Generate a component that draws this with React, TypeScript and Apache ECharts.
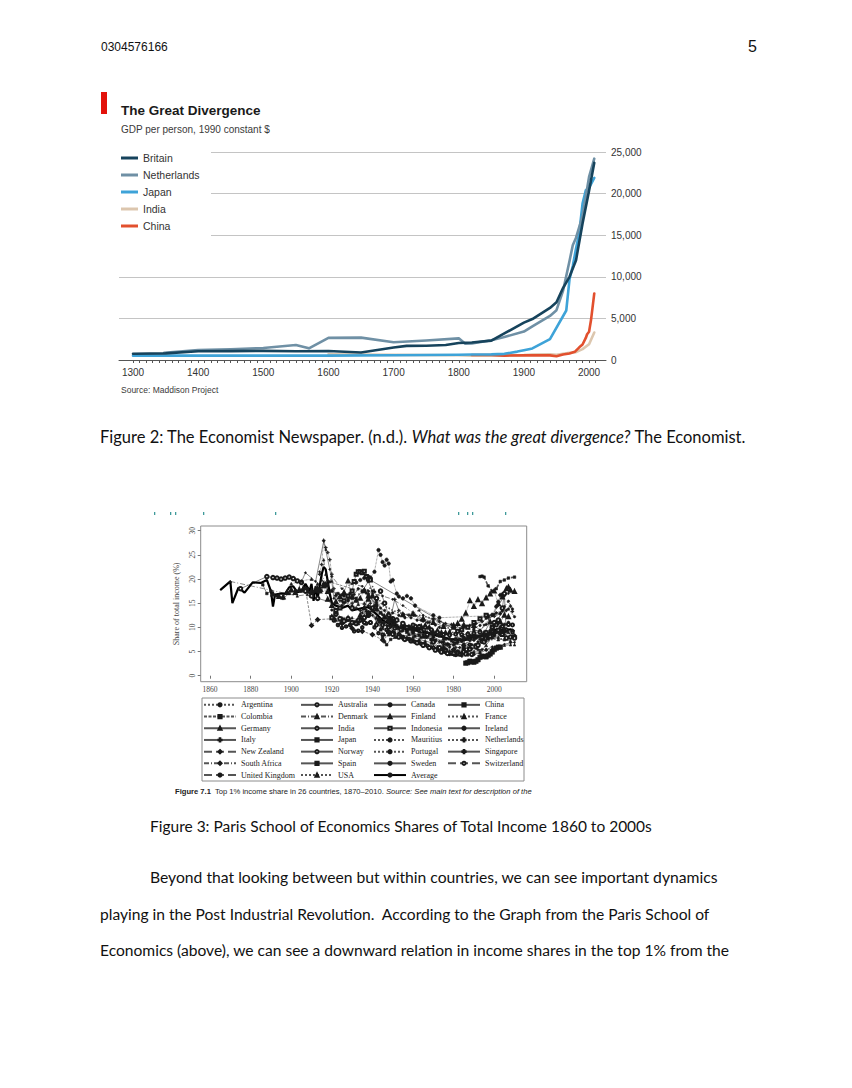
import React, { useEffect, useRef } from 'react';
import * as echarts from 'echarts';

// ---------- Figure 2: The Great Divergence (GDP per person, 1990 $) ----------
const gdpBritain = [[1300,750],[1350,800],[1400,1050],[1450,1070],[1500,1100],[1550,1050],[1600,1080],[1650,910],[1700,1500],[1720,1700],[1750,1710],[1780,1800],[1800,2050],[1820,2100],[1850,2330],[1870,3190],[1900,4490],[1913,4920],[1940,6260],[1950,6940],[1960,8650],[1970,10000],[1980,12000],[1990,16400],[2000,20350],[2008,23700]];
const gdpNetherlands = [[1348,880],[1400,1200],[1450,1300],[1500,1450],[1550,1800],[1570,1400],[1600,2660],[1650,2690],[1700,2130],[1750,2350],[1800,2600],[1810,1950],[1820,2000],[1850,2370],[1870,2760],[1900,3420],[1913,4050],[1940,5300],[1950,5990],[1960,8300],[1970,11900],[1975,13800],[1980,14700],[1990,17300],[2000,22000],[2008,24200]];
const gdpJapan = [[1300,520],[1400,520],[1500,520],[1600,520],[1700,570],[1800,640],[1820,670],[1850,680],[1870,740],[1890,1010],[1900,1180],[1913,1390],[1940,2500],[1965,5950],[1970,9700],[1975,11300],[1980,13400],[1985,15300],[1990,18800],[1995,20400],[2000,20700],[2008,21900]];
const gdpIndia = [[1600,680],[1700,620],[1800,570],[1820,530],[1850,530],[1870,530],[1900,600],[1913,670],[1940,690],[1950,620],[1960,750],[1970,870],[1980,940],[1990,1310],[2000,1900],[2008,3300]];
const gdpChina = [[1820,600],[1850,600],[1870,530],[1900,550],[1913,550],[1940,560],[1950,450],[1960,660],[1970,780],[1978,980],[1985,1520],[1990,1860],[1995,2650],[1997,3100],[2000,3400],[2003,4800],[2008,8000]];
const gdpYearTicks = Array.from({ length: 72 }, (_, i) => 1300 + i * 10);
const gdpYearLabels = [1300, 1400, 1500, 1600, 1700, 1800, 1900, 2000];

// ---------- Figure 3: Top 1% income share (%) ----------
const argentina = [[1932,19.3],[1934,19.8],[1936,20.2],[1938,20.5],[1939,20.3],[1941,21.5],[1943,26],[1944,25],[1945,23.5],[1946,22.8],[1947,24],[1948,23.2],[1949,19.5],[1950,19.8],[1952,17],[1953,16.4],[1955,16],[1957,16.5],[1959,16],[1961,14.5],[1970,12.5],[1973,12],[1997,12.4],[1999,12.6],[2001,14.3],[2002,15.3],[2003,16.7],[2004,16.8]];
const colombia = [[1993,20.5],[1994,20.6],[1995,20.4],[1997,18.6],[1999,17.5],[2001,18],[2003,19.5],[2005,19.8],[2007,20.2],[2010,20.4]];
const germany = [[1891,16.9],[1894,16.4],[1896,16.3],[1898,17.2],[1900,17.8],[1902,17.2],[1904,17.8],[1906,18],[1908,17.6],[1910,17.4],[1912,17.7],[1914,17.5],[1916,19],[1917,18.8],[1918,17.4],[1925,11.2],[1926,11.5],[1928,11.9],[1932,11],[1934,12.5],[1936,14],[1938,16.5],[1950,11.6],[1955,12.6],[1960,12.8],[1965,11.8],[1970,11],[1975,10.2],[1980,10.4],[1985,10.5],[1990,10.4],[1995,8.8],[1998,11.1],[2001,11],[2003,11.1],[2005,12.5],[2007,12.2]];
const italy = [[1974,6.9],[1976,6.5],[1978,6.4],[1980,6.9],[1982,6.8],[1984,7.2],[1986,7.6],[1988,7.6],[1990,7.8],[1992,8.1],[1994,8.4],[1996,8.6],[1998,8.9],[2000,9.2],[2002,9.3],[2004,9.4],[2006,9.6],[2009,9.4]];
const newZealand = [[1907,18],[1910,10.4],[1913,11.6],[1921,11.8],[1925,10.8],[1930,9.8],[1935,9.2],[1940,8.5],[1945,7.4],[1950,9],[1955,7.8],[1960,7.2],[1965,6.4],[1970,5.8],[1975,5.6],[1980,5.4],[1985,6.2],[1988,7.5],[1990,8.2],[1995,8.2],[2000,8.8],[2005,9.3],[2010,8.2]];
const southAfrica = [[1914,21.5],[1918,18.5],[1920,20.5],[1925,18],[1930,19],[1935,18.5],[1940,17],[1945,16.5],[1950,15.8],[1955,14.5],[1960,13],[1963,13.5],[1965,12.5],[1970,11.5],[1975,10.5],[1990,9.5],[1993,9],[1995,10.5],[1999,12.5],[2002,14.5],[2005,16.5],[2007,17]];
const unitedKingdom = [[1918,19.6],[1919,19.4],[1937,17.1],[1938,16.9],[1945,12.6],[1949,11.5],[1951,10.9],[1955,9.3],[1960,9],[1965,8],[1970,7.1],[1975,6.1],[1978,5.9],[1981,6.7],[1985,8],[1990,9.8],[1993,10.4],[1996,11.9],[2000,12.7],[2003,12.9],[2005,14.3],[2007,15.4],[2009,13.8]];
const australia = [[1921,11.4],[1923,10.5],[1925,9.9],[1927,10.2],[1929,10.5],[1931,9.2],[1933,9.3],[1935,10],[1937,10.8],[1939,11],[1941,10],[1943,8.8],[1945,8.5],[1947,9.5],[1949,10.2],[1951,11.3],[1953,8.6],[1955,8],[1958,7.6],[1961,7],[1964,6.6],[1967,6.2],[1970,5.8],[1973,5.2],[1976,4.9],[1979,4.7],[1982,5],[1985,5.6],[1988,6.4],[1991,6.3],[1994,7.1],[1997,7.8],[2000,8.8],[2003,8.7],[2006,9.5],[2009,9]];
const denmark = [[1870,19.5],[1903,16.5],[1908,16.8],[1915,19.8],[1916,24],[1917,21],[1918,19],[1920,14.5],[1922,12.5],[1925,12],[1928,11.5],[1930,12],[1933,11.5],[1936,12.5],[1939,13],[1942,12],[1945,11],[1948,10],[1951,9],[1954,8.5],[1957,8],[1960,7.5],[1963,7.2],[1966,6.8],[1969,6],[1972,5.6],[1975,5.4],[1978,5.2],[1981,5],[1984,5],[1987,5.1],[1990,5],[1993,5.2],[1996,5.5],[1999,5.6],[2002,5.9],[2005,6.3],[2008,6.4],[2010,6.4]];
const india = [[1922,12.8],[1924,11.8],[1926,11.3],[1928,11.8],[1930,11],[1932,10.8],[1934,11.5],[1936,12],[1938,12.5],[1940,14],[1942,16],[1944,17.5],[1946,15],[1948,12.5],[1950,11.8],[1952,11.5],[1955,10.8],[1958,10],[1961,10.2],[1964,9.3],[1967,8.5],[1970,7],[1973,5.8],[1976,5.3],[1979,4.7],[1982,4.6],[1985,4.9],[1988,5.5],[1991,6],[1994,7.2],[1997,8.5],[1999,9]];
const japan = [[1886,18.8],[1888,17],[1890,17.5],[1893,16.5],[1896,16],[1899,17],[1902,17.5],[1905,17.5],[1908,18],[1911,17.5],[1914,18],[1917,19],[1920,17.5],[1923,17],[1926,16.5],[1929,17],[1932,16],[1935,17.5],[1938,19.5],[1940,17.5],[1942,15],[1944,9.5],[1945,8],[1946,7],[1947,6.4],[1949,7.5],[1952,8],[1955,8.1],[1958,8.5],[1961,8.2],[1964,7.9],[1967,8],[1970,8.4],[1973,8.2],[1976,7.6],[1979,7.2],[1982,7.1],[1985,7.4],[1988,8.3],[1991,7.8],[1994,7.4],[1997,7.7],[2000,8.2],[2003,8.6],[2006,9.2],[2009,9.3]];
const norway = [[1875,18],[1888,20.5],[1891,20.3],[1893,20.2],[1895,20],[1897,20.2],[1899,20.4],[1901,20.1],[1903,19.6],[1905,19.3],[1907,17.5],[1910,16.5],[1913,16],[1930,14],[1938,13],[1948,9],[1950,8.6],[1953,8],[1956,7.5],[1959,7.2],[1962,6.8],[1965,6.3],[1968,5.8],[1971,5.3],[1974,4.9],[1977,4.6],[1980,4.6],[1983,4.5],[1986,4.5],[1989,4.4],[1992,6.3],[1995,7],[1998,8.2],[2000,11],[2002,11.5],[2004,14],[2005,17],[2006,7.8],[2008,8],[2010,7.8]];
const spain = [[1933,10.8],[1935,11.5],[1938,12.5],[1940,13.5],[1942,14.5],[1944,13],[1946,12],[1948,11],[1950,10.5],[1952,10],[1954,9.5],[1957,9],[1960,8.8],[1963,8.4],[1966,8],[1969,7.5],[1971,7.3],[1981,7.5],[1983,7.5],[1985,7.8],[1987,7.9],[1989,8.2],[1991,8.2],[1993,8.2],[1995,8.4],[1997,8.6],[1999,8.8],[2001,9],[2003,9.1],[2005,9.3]];
const usa = [[1913,18],[1916,18.6],[1918,15.8],[1920,14.5],[1922,15.3],[1924,16.4],[1926,17.2],[1928,19.6],[1930,16.4],[1932,15.6],[1934,16],[1936,17.6],[1938,15.8],[1940,16.5],[1942,13.8],[1944,11.3],[1946,12.2],[1948,11.8],[1950,11.4],[1952,10],[1954,10],[1956,10.2],[1958,10],[1960,10],[1962,9.8],[1964,10.2],[1966,10.4],[1968,10],[1970,9],[1972,9.3],[1974,8.9],[1976,8.9],[1978,9],[1980,10],[1982,10.8],[1984,11.7],[1986,12.9],[1988,15.5],[1990,14.3],[1992,15.7],[1994,14.9],[1996,16.1],[1998,16.9],[2000,17.5],[2002,14.9],[2004,16.3],[2006,18],[2007,18.3],[2008,17.7],[2010,17.4]];
const canada = [[1920,13.6],[1922,13],[1925,14.5],[1928,15.5],[1931,16.8],[1933,18],[1936,17.8],[1938,17.5],[1941,14.5],[1943,11.8],[1945,10.5],[1948,10.3],[1951,10.6],[1954,9.8],[1957,9.3],[1960,9.2],[1963,9.1],[1966,9.2],[1969,8.8],[1972,8.5],[1975,7.9],[1978,7.7],[1981,7.7],[1984,8.2],[1987,8.9],[1990,9.3],[1993,9.4],[1996,10.6],[1999,12.5],[2001,13],[2004,13.4],[2007,13.8],[2010,12.2]];
const finland = [[1920,12.5],[1922,11.5],[1925,11],[1928,11.5],[1931,11.2],[1934,12],[1937,13.5],[1939,14.2],[1942,11],[1945,9.8],[1948,8.5],[1951,8],[1954,8.2],[1957,7.8],[1960,8],[1963,7.5],[1966,7.2],[1969,6.8],[1972,6],[1975,5],[1978,4.6],[1981,4.3],[1984,4.4],[1987,4.6],[1990,4.6],[1993,4.8],[1996,6.3],[1999,8],[2000,8.7],[2002,7.5],[2005,7.5],[2008,7.2]];
const indonesia = [[1920,12],[1922,13.5],[1924,14],[1926,15.5],[1928,16.5],[1930,17.5],[1931,19.5],[1932,21],[1933,21.5],[1934,21.5],[1935,21.3],[1936,21.6],[1937,20.5],[1938,20],[1939,19.8],[1982,9.2],[1984,9.5],[1987,10],[1990,11],[1993,11.8],[1996,12.5],[1999,10],[2002,9.4],[2004,8.5]];
const mauritius = [[1933,16.8],[1935,17.2],[1938,17.8],[1940,18.5],[1943,16],[1945,14.5],[1948,14],[1950,13.5],[1953,13],[1956,12.8],[1960,12.3],[1964,12.5],[1968,12],[1971,11.7],[1974,11.2],[1977,10],[1980,8.8],[1983,7.5],[1986,6.5],[1989,6.2],[1992,6.5],[1995,6.8],[1998,7.4],[2001,7.7],[2004,7.6],[2007,7.8]];
const portugal = [[1936,14],[1938,16],[1940,16.5],[1942,15.5],[1944,14],[1946,13.5],[1948,13],[1950,13],[1953,12.5],[1956,12],[1959,12],[1962,11.5],[1965,11.3],[1968,11],[1971,10.5],[1973,10],[1976,5.5],[1980,4.3],[1983,4.6],[1986,5],[1989,6.4],[1992,7],[1995,7.8],[1998,8.6],[2001,9],[2003,9.3],[2005,9.8]];
const sweden = [[1903,17.5],[1907,21.3],[1912,19.5],[1916,27.8],[1917,26],[1919,22],[1920,19.5],[1921,16],[1925,15.5],[1930,14.5],[1935,13],[1940,12.5],[1943,11.5],[1945,10],[1948,9],[1951,8.5],[1955,8],[1959,7.2],[1963,6.9],[1966,6.7],[1969,6],[1972,5.6],[1975,5],[1978,4.3],[1981,4.1],[1984,4],[1987,4.2],[1990,4.4],[1993,4.7],[1996,5.3],[1999,6],[2002,6],[2005,6.5],[2008,6.8],[2010,6.9]];
const china = [[1986,2.6],[1987,2.7],[1988,3],[1989,2.9],[1990,2.8],[1991,3],[1992,3.3],[1993,3.8],[1994,4],[1995,4],[1996,3.9],[1997,4.2],[1998,4.5],[1999,4.9],[2000,5.4],[2001,5.7],[2002,5.9],[2003,5.9]];
const france = [[1900,19],[1905,19.6],[1910,20],[1913,19],[1915,17.7],[1916,18.5],[1918,17.5],[1920,17.7],[1922,16.8],[1925,16.8],[1928,16],[1930,16],[1933,14.8],[1936,15],[1939,14.2],[1942,12],[1944,9.7],[1946,8.5],[1948,9],[1951,9],[1954,9.3],[1957,9.6],[1960,9.5],[1963,9.3],[1966,9],[1969,8.7],[1972,8.4],[1975,7.7],[1978,7.7],[1981,7.5],[1984,7.2],[1987,7.6],[1990,8.2],[1993,7.7],[1996,7.4],[1999,7.9],[2002,8],[2005,8.7],[2007,9],[2009,8.2]];
const ireland = [[1938,12.9],[1943,11.5],[1946,11],[1950,11],[1955,10],[1960,9.8],[1965,8.5],[1970,8],[1975,7],[1977,6.6],[1980,6.4],[1985,6.5],[1990,7.4],[1995,8.2],[1998,9.3],[2000,10.3],[2003,10],[2005,10.6],[2007,11],[2009,10.5]];
const netherlands = [[1914,21],[1915,23],[1916,28],[1917,26.5],[1918,25.5],[1919,24],[1920,21],[1921,18],[1922,16.5],[1924,15.5],[1926,15],[1928,15.5],[1930,15],[1932,14],[1934,13.5],[1936,14],[1938,14.5],[1939,15],[1941,17.4],[1946,12],[1950,11.2],[1952,10.5],[1955,10],[1957,10],[1960,10],[1962,9.7],[1964,9.6],[1967,9],[1970,7.9],[1973,7],[1975,6.5],[1977,6.3],[1981,5.9],[1983,5.8],[1985,5.6],[1987,5.7],[1989,5.6],[1992,5.4],[1994,5.4],[1996,5.3],[1999,5.4]];
const singapore = [[1947,10.4],[1949,12],[1951,15.8],[1953,13.5],[1955,12.7],[1958,12.5],[1961,12.5],[1964,11.5],[1967,11],[1970,11.8],[1973,11.2],[1976,10.8],[1979,10.6],[1982,10.5],[1985,10],[1988,10.4],[1991,10.8],[1994,11.2],[1997,12],[2000,12.3],[2003,12.8],[2006,13.5],[2008,14.4],[2009,13.3]];
const switzerland = [[1933,11.5],[1936,11],[1939,11],[1942,10.5],[1945,10.5],[1948,10],[1951,9.8],[1954,9.5],[1957,10],[1960,10.5],[1963,10.2],[1966,10],[1969,9.5],[1972,9],[1975,8.5],[1978,8.4],[1981,8.6],[1984,8.5],[1987,8.6],[1990,8.8],[1993,9],[1996,9],[1999,10],[2001,10.5],[2004,10.2],[2007,10.6],[2009,10.5]];
const average = [[1865,17.7],[1870,19.5],[1871,15],[1874,18.2],[1877,17.2],[1881,19.3],[1885,19.2],[1888,19.8],[1890,17.5],[1891,14.3],[1892,16.8],[1895,17],[1897,17],[1899,18.3],[1901,18.5],[1903,17.3],[1905,17.5],[1907,19],[1909,17.5],[1910,19],[1911,15.5],[1912,18.5],[1913,16],[1915,21],[1916,22.5],[1917,22],[1918,19.5],[1919,17],[1920,15],[1922,14.5],[1925,14],[1928,14.5],[1930,13.5],[1935,14],[1938,14.2],[1940,13.5],[1943,12.3],[1945,11.5],[1948,10.8],[1950,10.5],[1953,10],[1955,9.8],[1958,9.6],[1960,9.5],[1963,9.2],[1965,9],[1968,8.8],[1970,8.5],[1973,8.2],[1975,8],[1978,7.6],[1980,7.5],[1983,7.4],[1985,7.3],[1988,7.8],[1990,8],[1993,8.2],[1995,8.3],[1998,9.1],[2000,9.5],[2003,9.4],[2005,9.5],[2008,9.6],[2010,9.2]];
const shareYearTicks = [1860, 1880, 1900, 1920, 1940, 1960, 1980, 2000];
const shareTicks = [0, 5, 10, 15, 20, 25, 30];

const legendCol1 = ['Argentina', 'Colombia', 'Germany', 'Italy', 'New Zealand', 'South Africa', 'United Kingdom'];
const legendCol2 = ['Australia', 'Denmark', 'India', 'Japan', 'Norway', 'Spain', 'USA'];
const legendCol3 = ['Canada', 'Finland', 'Indonesia', 'Mauritius', 'Portugal', 'Sweden', 'Average'];
const legendCol4 = ['China', 'France', 'Ireland', 'Netherlands', 'Singapore', 'Switzerland'];

const SFX = ' #2';
const PLUS = 'path://M4,0h2v4h4v2h-4v4h-2v-4h-4v-2h4z';
const DASHDOT = [5, 2, 1, 2];

const DOC_FONT = 'Lato, "Open Sans", sans-serif';
const ECO_FONT = '"Liberation Sans", Arial, sans-serif';
const SERIF = '"Liberation Serif", "DejaVu Serif", serif';

function gdpLine(name: string, data: number[][], color: string) {
  return {
    name, type: 'line', xAxisIndex: 0, yAxisIndex: 0, data,
    showSymbol: false, symbol: 'none', color,
    lineStyle: { color, width: 2.6, cap: 'round', join: 'round' },
  };
}

function shareLine(name: string, data: number[][], lineType: any, symbol: string, size: number, width = 0.7) {
  return {
    name: name + SFX, type: 'line', xAxisIndex: 1, yAxisIndex: 1, data,
    symbol, symbolSize: size, showSymbol: symbol !== 'none', showAllSymbol: true,
    color: '#1a1a1a',
    itemStyle: { color: '#1a1a1a', borderColor: '#1a1a1a', borderWidth: 0.6 },
    lineStyle: { color: '#555', width, type: lineType },
  };
}

function shareLegend(names: string[], left: number) {
  return {
    data: names.map((n) => n + SFX), orient: 'vertical', left, top: 700,
    itemWidth: 32, itemHeight: 4, itemGap: 2, padding: 0, selectedMode: false,
    formatter: (n: string) => n.replace(SFX, ''),
    textStyle: { fontFamily: SERIF, fontSize: 8, color: '#222', lineHeight: 9.7 },
  };
}

const tealMarks = [154, 170, 175, 203, 275, 458, 467, 472, 505];
const plainYear = (v: number) => String(v);

export default function App() {
  const ref = useRef<HTMLDivElement>(null);
  useEffect(() => {
    const chart = echarts.init(ref.current!, null, { renderer: 'svg' });
    const option: any = {
      animation: false,
      backgroundColor: '#ffffff',
      grid: [
        { left: 119, top: 152, width: 487, height: 208 },
        { left: 200.7, top: 526, width: 326, height: 155.7, show: true, borderColor: '#8c8c8c', borderWidth: 1 },
      ],
      xAxis: [
        {
          type: 'value', gridIndex: 0, min: 1278.5, max: 2026,
          axisLine: { show: true, lineStyle: { color: '#555', width: 1 } },
          axisTick: { show: true, length: 3, customValues: gdpYearTicks, lineStyle: { color: '#555' } },
          axisLabel: { customValues: gdpYearLabels, formatter: plainYear, fontFamily: ECO_FONT, fontSize: 10, color: '#333', margin: 7 },
          splitLine: { show: false },
        },
        {
          type: 'value', gridIndex: 1, min: 1855.4, max: 2016,
          axisLine: { show: false },
          axisTick: { show: true, length: 3, customValues: shareYearTicks, lineStyle: { color: '#777' } },
          axisLabel: { customValues: shareYearTicks, formatter: plainYear, fontFamily: SERIF, fontSize: 7.5, color: '#444', margin: 4 },
          splitLine: { show: false },
        },
      ],
      yAxis: [
        {
          type: 'value', gridIndex: 0, position: 'right', min: 0, max: 25000, interval: 5000,
          axisLine: { show: false }, axisTick: { show: false },
          axisLabel: { fontFamily: ECO_FONT, fontSize: 10, color: '#333', margin: 5,
            formatter: (v: number) => v.toLocaleString('en-US') },
          splitLine: { show: true, lineStyle: { color: '#c4c4c4', width: 1 } },
        },
        {
          type: 'value', gridIndex: 1, min: -1.24, max: 30.97,
          name: 'Share of total income (%)', nameLocation: 'middle', nameRotate: 90, nameGap: 20,
          nameTextStyle: { fontFamily: SERIF, fontSize: 8, color: '#444' },
          axisLine: { show: false },
          axisTick: { show: true, length: 3, customValues: shareTicks, lineStyle: { color: '#777' } },
          axisLabel: { customValues: shareTicks, rotate: 90, fontFamily: SERIF, fontSize: 7.5, color: '#444', margin: 4 },
          splitLine: { show: false },
        },
      ],
      legend: [
        {
          data: ['Britain', 'Netherlands', 'Japan', 'India', 'China'],
          orient: 'vertical', left: 121, top: 152, icon: 'rect', itemWidth: 17, itemHeight: 3, itemGap: 5,
          padding: 0, selectedMode: false,
          textStyle: { fontFamily: ECO_FONT, fontSize: 10.5, color: '#333', lineHeight: 12 },
        },
        shareLegend(legendCol1, 203),
        shareLegend(legendCol2, 300),
        shareLegend(legendCol3, 373),
        shareLegend(legendCol4, 447),
      ],
      series: [
        gdpLine('India', gdpIndia, '#dcc6ae'),
        gdpLine('China', gdpChina, '#e2502e'),
        gdpLine('Japan', gdpJapan, '#3ea3d8'),
        gdpLine('Netherlands', gdpNetherlands, '#6f90a5'),
        gdpLine('Britain', gdpBritain, '#16435c'),

        shareLine('Argentina', argentina, 'dotted', 'circle', 3.5),
        shareLine('Colombia', colombia, [3, 1.5], 'rect', 2.5, 1.6),
        shareLine('Germany', germany, 'solid', 'emptyTriangle', 3),
        shareLine('Italy', italy, 'solid', PLUS, 3),
        shareLine('New Zealand', newZealand, 'dashed', 'emptyDiamond', 3),
        shareLine('South Africa', southAfrica, DASHDOT, 'diamond', 2.5),
        shareLine('United Kingdom', unitedKingdom, 'dashed', 'circle', 2.5),
        shareLine('Australia', australia, 'solid', 'emptyCircle', 2.5),
        shareLine('Denmark', denmark, DASHDOT, 'triangle', 2.5),
        shareLine('India', india, 'solid', 'emptyCircle', 3.5),
        shareLine('Japan', japan, 'solid', 'rect', 2.5),
        shareLine('Norway', norway, 'solid', 'emptyCircle', 3.5),
        shareLine('Spain', spain, 'solid', 'rect', 3),
        shareLine('USA', usa, 'dotted', 'emptyTriangle', 3),
        shareLine('Canada', canada, 'solid', 'circle', 2.5),
        shareLine('Finland', finland, 'solid', 'triangle', 3),
        shareLine('Indonesia', indonesia, 'solid', 'emptyRect', 3),
        shareLine('Mauritius', mauritius, 'dotted', 'none', 2, 1.6),
        shareLine('Portugal', portugal, 'dotted', 'circle', 2.5),
        shareLine('Sweden', sweden, 'solid', 'circle', 1.8),
        shareLine('China', china, 'solid', 'rect', 4.5),
        shareLine('France', france, 'dotted', 'triangle', 3),
        shareLine('Ireland', ireland, 'solid', 'circle', 3),
        shareLine('Netherlands', netherlands, 'dotted', PLUS, 3),
        shareLine('Singapore', singapore, 'solid', PLUS, 3),
        shareLine('Switzerland', switzerland, 'dashed', 'emptyCircle', 3),
        { ...shareLine('Average', average, 'solid', 'none', 2, 2.2), lineStyle: { color: '#000', width: 2.2, type: 'solid' } },
      ],
      graphic: [
        // page header
        { type: 'text', style: { text: '0304576166', x: 101, y: 47, fontFamily: ECO_FONT, fontSize: 12, fill: '#111', verticalAlign: 'middle' } },
        { type: 'text', style: { text: '5', x: 748, y: 46, fontFamily: ECO_FONT, fontSize: 16, fill: '#111', verticalAlign: 'middle' } },
        // Economist chart decorations
        { type: 'rect', z: 1, shape: { x: 114, y: 144, width: 97, height: 97 }, style: { fill: '#ffffff' } },
        { type: 'rect', z: 5, shape: { x: 101, y: 92, width: 6, height: 22 }, style: { fill: '#e3120b' } },
        { type: 'text', z: 5, style: { text: 'The Great Divergence', x: 121, y: 110, fontFamily: ECO_FONT, fontSize: 13.5, fontWeight: 'bold', fill: '#1a1a1a', verticalAlign: 'middle' } },
        { type: 'text', z: 5, style: { text: 'GDP per person, 1990 constant $', x: 121, y: 129, fontFamily: ECO_FONT, fontSize: 10, fill: '#3a3a3a', verticalAlign: 'middle' } },
        { type: 'text', z: 5, style: { text: 'Source: Maddison Project', x: 121, y: 390, fontFamily: ECO_FONT, fontSize: 8.5, fill: '#3a3a3a', verticalAlign: 'middle' } },
        // caption Figure 2
        { type: 'text', style: { x: 100, y: 437, verticalAlign: 'middle', fontFamily: DOC_FONT, fontSize: 16.5, fill: '#111',
          text: 'Figure 2: The Economist Newspaper. (n.d.). {i|What was the great divergence?} The Economist.',
          rich: { i: { fontStyle: 'italic', fontFamily: DOC_FONT, fontSize: 16.5, fill: '#111' } } } },
        // stray teal marks above figure 3 (cropped text)
        ...tealMarks.map((x) => ({ type: 'rect', shape: { x, y: 512, width: 1.3, height: 3 }, style: { fill: '#3f9a9a' } })),
        // legend box Figure 3
        { type: 'rect', shape: { x: 202, y: 698, width: 322, height: 83 }, style: { fill: 'none', stroke: '#8c8c8c', lineWidth: 1 } },
        { type: 'text', style: { x: 175, y: 791, verticalAlign: 'middle', fontFamily: ECO_FONT, fontSize: 7.6, fill: '#222',
          text: '{b|Figure 7.1}  Top 1% income share in 26 countries, 1870\u20132010. {i|Source: See main text for description of the}',
          rich: { b: { fontWeight: 'bold', fontFamily: ECO_FONT, fontSize: 7.6, fill: '#222' }, i: { fontStyle: 'italic', fontFamily: ECO_FONT, fontSize: 7.6, fill: '#222' } } } },
        // captions and body text
        { type: 'text', style: { text: 'Figure 3: Paris School of Economics Shares of Total Income 1860 to 2000s', x: 150, y: 826, verticalAlign: 'middle', fontFamily: DOC_FONT, fontSize: 15.5, fill: '#111' } },
        { type: 'text', style: { text: 'Beyond that looking between but within countries, we can see important dynamics', x: 150, y: 877, verticalAlign: 'middle', fontFamily: DOC_FONT, fontSize: 15.7, fill: '#111' } },
        { type: 'text', style: { text: 'playing in the Post Industrial Revolution.  According to the Graph from the Paris School of', x: 100, y: 914, verticalAlign: 'middle', fontFamily: DOC_FONT, fontSize: 15.6, fill: '#111' } },
        { type: 'text', style: { text: 'Economics (above), we can see a downward relation in income shares in the top 1% from the', x: 100, y: 950, verticalAlign: 'middle', fontFamily: DOC_FONT, fontSize: 15.6, fill: '#111' } },
      ],
    };
    chart.setOption(option);
    return () => chart.dispose();
  }, []);
  return <div ref={ref} style={{ position: 'absolute', left: 0, top: 0, width: 852, height: 1088, background: '#fff' }} />;
}
